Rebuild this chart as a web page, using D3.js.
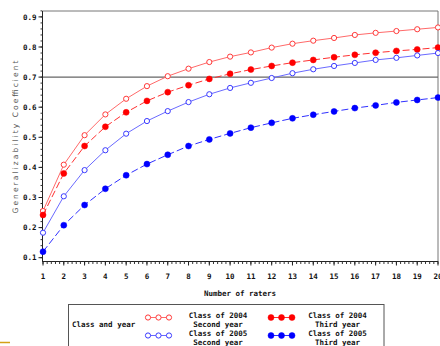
<!DOCTYPE html>
<html><head><meta charset="utf-8">
<script src="https://cdn.jsdelivr.net/npm/d3@7/dist/d3.min.js"></script>
<style>body{margin:0;background:#fff}svg{display:block}</style>
</head><body>
<svg id="c" width="440" height="346"></svg>
<script>
const raters = d3.range(1, 21);
const c2004second = [0.255,0.409,0.507,0.576,0.628,0.670,0.703,0.728,0.750,0.768,0.782,0.798,0.811,0.821,0.830,0.840,0.847,0.853,0.859,0.865];
const c2004third  = [0.242,0.380,0.471,0.535,0.583,0.621,0.650,0.673,0.694,0.711,0.725,0.737,0.748,0.757,0.766,0.774,0.781,0.787,0.792,0.798];
const c2005second = [0.183,0.304,0.391,0.457,0.512,0.554,0.587,0.617,0.643,0.664,0.681,0.697,0.713,0.726,0.737,0.747,0.757,0.764,0.772,0.780];
const c2005third  = [0.120,0.208,0.275,0.329,0.374,0.411,0.442,0.471,0.493,0.513,0.532,0.548,0.563,0.575,0.586,0.597,0.606,0.616,0.624,0.632];
const yTicks = [0.1,0.2,0.3,0.4,0.5,0.6,0.7,0.8,0.9];
const refValue = 0.7;
const series = [
  {name:["Class of 2004","Second year"], values:c2004second, line:"#ff6a6a", mark:"#ff3a3a", filled:false, dash:null},
  {name:["Class of 2004","Third year"],  values:c2004third,  line:"#ff3030", mark:"#ff0000", filled:true,  dash:"7,3"},
  {name:["Class of 2005","Second year"], values:c2005second, line:"#6a6aff", mark:"#3a3aff", filled:false, dash:null},
  {name:["Class of 2005","Third year"],  values:c2005third,  line:"#3030ff", mark:"#0000ff", filled:true,  dash:"7,3"}
];

const svg = d3.select("#c");
const font = "'DejaVu Sans Mono', 'Liberation Mono', monospace";
const x = d3.scaleLinear().domain([1,20]).range([43,438]);
const y = d3.scaleLinear().domain([0.1,0.9]).range([257.7,16.9]);
const plotTop = 11, plotBottom = 262;

// frame top/right
svg.append("line").attr("x1",x(1)).attr("x2",x(20)).attr("y1",plotTop).attr("y2",plotTop).attr("stroke","#777");
svg.append("line").attr("x1",x(20)).attr("x2",x(20)).attr("y1",plotTop).attr("y2",plotBottom).attr("stroke","#777");

// y axis
const gy = svg.append("g").attr("transform",`translate(${x(1)-0.5},0)`);
gy.append("line").attr("y1",plotTop).attr("y2",plotBottom).attr("stroke","#222");
const yMinor = d3.range(0.1,0.921,0.02);
gy.selectAll(".ym").data(yMinor).join("line").attr("x1",-2).attr("x2",0)
  .attr("y1",d=>y(d)).attr("y2",d=>y(d)).attr("stroke","#333");
gy.selectAll(".yM").data(yTicks).join("line").attr("x1",-4).attr("x2",0)
  .attr("y1",d=>y(d)).attr("y2",d=>y(d)).attr("stroke","#222");
gy.selectAll(".yl").data(yTicks).join("text").attr("x",-6).attr("y",d=>y(d)+2.7)
  .attr("text-anchor","end").attr("font-family",font).attr("font-weight","bold")
  .attr("font-size","7.5px").attr("fill","#111").text(d=>d3.format(".1f")(d));

// x axis
const gx = svg.append("g").attr("transform",`translate(0,${plotBottom-0.5})`);
gx.append("line").attr("x1",x(1)-0.5).attr("x2",x(20)).attr("stroke","#222");
const xMinor = d3.range(1,20.001,0.2);
gx.selectAll(".xm").data(xMinor).join("line").attr("x1",d=>x(d)).attr("x2",d=>x(d))
  .attr("y1",0).attr("y2",2.5).attr("stroke","#333");
gx.selectAll(".xM").data(raters).join("line").attr("x1",d=>x(d)).attr("x2",d=>x(d))
  .attr("y1",0).attr("y2",4).attr("stroke","#222");
gx.selectAll(".xl").data(raters).join("text").attr("x",d=>x(d)).attr("y",17.5)
  .attr("text-anchor","middle").attr("font-family",font).attr("font-weight","bold")
  .attr("font-size","7.5px").attr("fill","#111").text(d=>d);

// axis titles
svg.append("text").attr("x",240).attr("y",296).attr("text-anchor","middle")
  .attr("font-family",font).attr("font-weight","bold").attr("font-size","7.5px").attr("fill","#111")
  .text("Number of raters");
svg.append("text").attr("transform","translate(18,137) rotate(-90)").attr("text-anchor","middle")
  .attr("font-family","'DejaVu Sans', sans-serif").attr("font-size","7.5px").attr("fill","#555")
  .attr("textLength",153).attr("lengthAdjust","spacing").text("Generalizability Coefficient");

// reference line
svg.append("line").attr("x1",x(1)).attr("x2",x(20)).attr("y1",y(refValue)).attr("y2",y(refValue))
  .attr("stroke","#666").attr("stroke-width",1.3);

// series
const lineGen = d3.line().x((d,i)=>x(raters[i])).y(d=>y(d));
series.forEach(s=>{
  svg.append("path").attr("d",lineGen(s.values)).attr("fill","none").attr("stroke",s.line)
    .attr("stroke-width",1).attr("stroke-dasharray",s.dash);
  svg.selectAll(null).data(s.values).join("circle").attr("cx",(d,i)=>x(raters[i])).attr("cy",d=>y(d))
    .attr("r",s.filled?3:2.6).attr("fill",s.filled?s.mark:"#fff").attr("stroke",s.mark).attr("stroke-width",s.filled?0.5:1);
});

// legend
svg.append("rect").attr("x",68.5).attr("y",304.5).attr("width",315.5).attr("height",60)
  .attr("fill","none").attr("stroke","#555");
svg.append("text").attr("x",72).attr("y",327).attr("font-family",font).attr("font-weight","bold")
  .attr("font-size","7.5px").attr("fill","#111").text("Class and year");
const legPos = [
  {sx:148, sy:317.5, tx:218, ty:[318,327]},
  {sx:271, sy:317.5, tx:337.5, ty:[318,327]},
  {sx:148, sy:335.5, tx:218, ty:[336,344.5]},
  {sx:271, sy:335.5, tx:337.5, ty:[336,344.5]}
];
series.forEach((s,k)=>{
  const p = legPos[k];
  const g = svg.append("g");
  g.append("line").attr("x1",p.sx).attr("x2",p.sx+21).attr("y1",p.sy).attr("y2",p.sy).attr("stroke",s.line);
  [0,10.5,21].forEach(dx=>g.append("circle").attr("cx",p.sx+dx).attr("cy",p.sy).attr("r",s.filled?3:2.6)
    .attr("fill",s.filled?s.mark:"#fff").attr("stroke",s.mark).attr("stroke-width",s.filled?0.5:1));
  s.name.forEach((t,j)=>g.append("text").attr("x",p.tx).attr("y",p.ty[j]).attr("text-anchor","middle")
    .attr("font-family",font).attr("font-weight","bold").attr("font-size","7.5px").attr("fill","#111").text(t));
});

// small accent line bottom-left
svg.append("line").attr("x1",0).attr("x2",10).attr("y1",342.5).attr("y2",342.5).attr("stroke","#d4a017").attr("stroke-width",1.5);
</script>
</body></html>
